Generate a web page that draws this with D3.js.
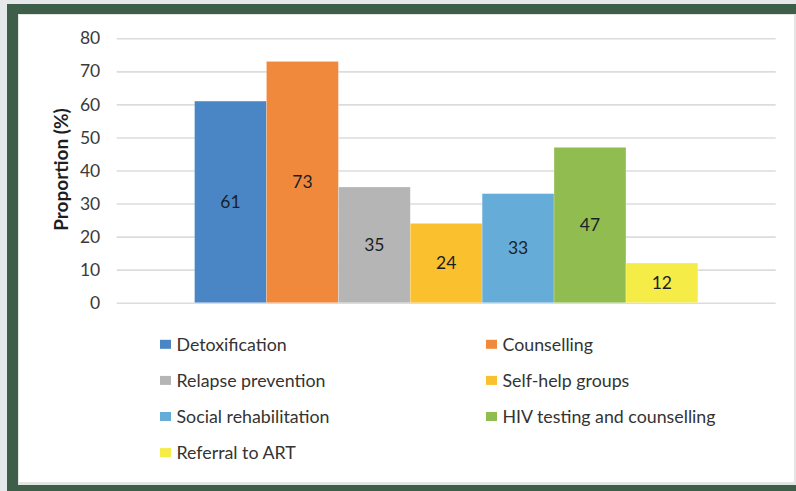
<!DOCTYPE html>
<html>
<head>
<meta charset="utf-8">
<script src="https://cdn.jsdelivr.net/npm/d3@7"></script>
<style>
  html, body { margin: 0; padding: 0; background: #e7e8ea; }
  svg { display: block; }
</style>
</head>
<body>
<script>
// Services received, share of respondents (%)
const categories = [
  "Detoxification",
  "Counselling",
  "Relapse prevention",
  "Self-help groups",
  "Social rehabilitation",
  "HIV testing and counselling",
  "Referral to ART"
];
const values = [61, 73, 35, 24, 33, 47, 12];
const colors = ["#4a86c5", "#f0893b", "#b5b5b5", "#fac02d", "#66acd9", "#91bc50", "#f6ec48"];
const yTicks = [0, 10, 20, 30, 40, 50, 60, 70, 80];
const yTitle = "Proportion (%)";

const W = 796, H = 491;
const FONT = "Lato, 'Open Sans', sans-serif";

const svg = d3.select("body").append("svg")
  .attr("width", W).attr("height", H);

// frame: grey page, dark green border, white panel
svg.append("rect").attr("width", W).attr("height", H).attr("fill", "#e7e8ea");
svg.append("rect").attr("x", 7).attr("y", 4).attr("width", W - 7).attr("height", H - 4).attr("fill", "#3d5e48");
svg.append("rect").attr("x", 18).attr("y", 14).attr("width", W - 18).attr("height", 471).attr("fill", "#e4e4e4");
svg.append("rect").attr("x", 19).attr("y", 15).attr("width", W - 21).attr("height", 467).attr("fill", "#ffffff");

const plot = { left: 116.7, right: 775.7, top: 38.3, bottom: 302.7 };

const y = d3.scaleLinear().domain([0, 80]).range([plot.bottom, plot.top]);
const x = d3.scaleBand().domain(categories)
  .range([plot.left, plot.right])
  .paddingInner(0).paddingOuter(1.083);

// gridlines + tick labels
const yAxis = svg.append("g")
  .attr("transform", `translate(${plot.left},0)`)
  .call(d3.axisLeft(y).tickValues(yTicks)
    .tickSize(-(plot.right - plot.left)).tickPadding(16.5)
    .tickFormat(d3.format("d")));
yAxis.select(".domain").remove();
yAxis.selectAll(".tick line").attr("stroke", "#dcdcdc").attr("stroke-width", 1.6);
yAxis.selectAll(".tick text")
  .attr("fill", "#3a3a3a")
  .style("font-family", FONT).style("font-size", "17.5px");

// axis title
svg.append("text")
  .attr("transform", `translate(68,${(plot.top + plot.bottom) / 2 - 1}) rotate(-90)`)
  .attr("text-anchor", "middle")
  .attr("fill", "#1e1e1e")
  .style("font-family", FONT).style("font-size", "19px").style("font-weight", "bold")
  .text(yTitle);

// bars
const bars = svg.append("g").selectAll("g.bar")
  .data(categories.map((c, i) => ({ c, v: values[i], col: colors[i] })))
  .join("g").attr("class", "bar");

bars.append("rect")
  .attr("x", d => x(d.c))
  .attr("width", x.bandwidth())
  .attr("y", d => y(d.v))
  .attr("height", d => y(0) - y(d.v))
  .attr("fill", d => d.col)
  .attr("stroke", "#ffffff").attr("stroke-opacity", 0.35).attr("stroke-width", 0.6);

bars.append("text")
  .attr("x", d => x(d.c) + x.bandwidth() / 2)
  .attr("y", d => (y(d.v) + y(0)) / 2)
  .attr("dy", "0.35em")
  .attr("text-anchor", "middle")
  .attr("fill", "#1a1f26")
  .style("font-family", FONT).style("font-size", "17.5px")
  .text(d => d.v);

// legend: two columns
const legendCols = [160, 486];
const legendRow0 = 344.3, legendRowStep = 36.1;
const legend = svg.append("g").selectAll("g.item")
  .data(categories.map((c, i) => ({ c, col: colors[i], i })))
  .join("g").attr("class", "item")
  .attr("transform", d => `translate(${legendCols[d.i % 2]},${legendRow0 + Math.floor(d.i / 2) * legendRowStep})`);

legend.append("rect")
  .attr("x", 0).attr("y", -4.5).attr("width", 11).attr("height", 9)
  .attr("fill", d => d.col);
legend.append("text")
  .attr("x", 16.5).attr("dy", "0.35em")
  .attr("fill", "#333333")
  .style("font-family", FONT).style("font-size", "17.8px")
  .text(d => d.c);
</script>
</body>
</html>
